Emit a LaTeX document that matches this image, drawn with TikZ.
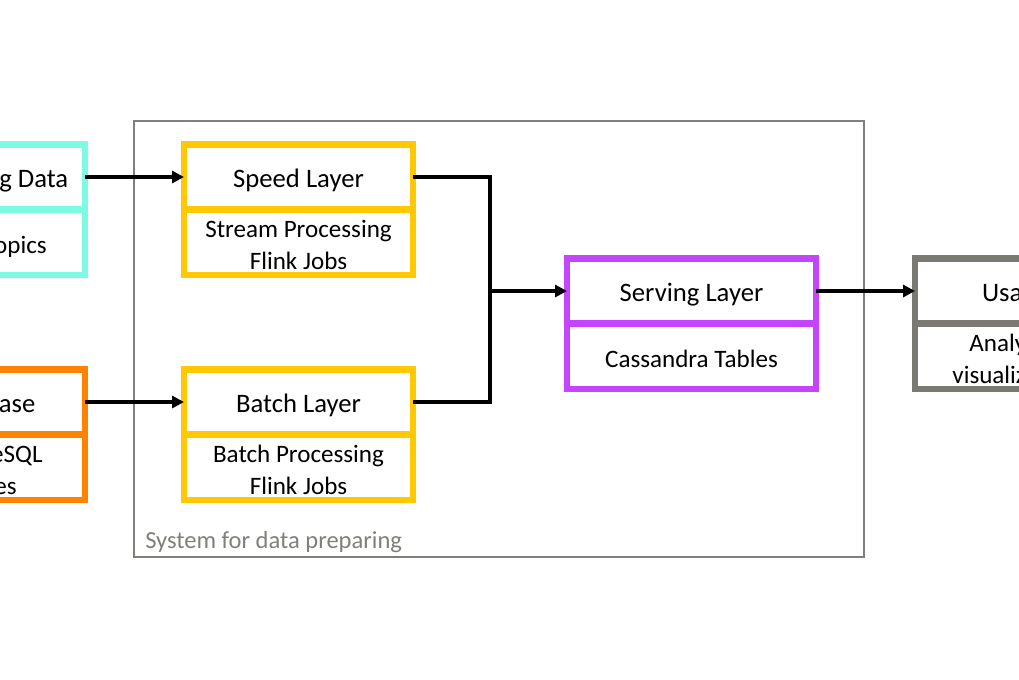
\documentclass[tikz,border=0pt]{standalone}
\usepackage{fontspec}
\setmainfont{Carlito}
\usepackage{xcolor}
\usepackage{tikz}
\usetikzlibrary{positioning,arrows.meta}

\definecolor{streamcol}{RGB}{127,250,226}
\definecolor{dbcol}{RGB}{255,131,0}
\definecolor{layercol}{RGB}{255,200,0}
\definecolor{servecol}{RGB}{197,68,255}
\definecolor{usagecol}{RGB}{122,122,114}
\definecolor{framecol}{RGB}{128,128,122}

\begin{document}
\begin{tikzpicture}[x=0.75pt,y=-0.75pt,
  every text node part/.style={align=center},
  font=\fontsize{18.8}{24}\selectfont,
  part/.style={draw, line width=5pt, outer sep=0pt, inner sep=0pt, minimum height=49pt,
    text height=16pt, text depth=0pt},
  head/.style={font=\fontsize{20}{24}\selectfont, text height=15pt},
  twoline/.style={text height=40pt},
  narrow/.style={part, minimum width=171.75pt},
  wide/.style={part, minimum width=186.75pt},
  side/.style={part, minimum width=150pt},
  link/.style={line width=3pt, -{Triangle[length=9pt,width=9pt]}}]
  \useasboundingbox (0,0) rectangle (1019,679);
  \clip (0,0) rectangle (1019,679);

  % system frame
  \draw[framecol, line width=1.5pt] (134,121) rectangle (864,557);
  \node[anchor=base west, inner sep=0pt, text=framecol, font=\fontsize{18.4}{22}\selectfont]
    (sysname) at (145,548) {System for data preparing};

  % sources
  \node[side, head, draw=streamcol]                         (stream)  at (-15,177) {Streaming Data};
  \node[side, draw=streamcol, below=0pt of stream]          (kafka)   {Kafka Topics};
  \node[side, head, draw=dbcol]                             (db)      at (-15,402) {Database};
  \node[side, twoline, draw=dbcol, below=0pt of db]         (pg)      {PostgreSQL\\Tables};

  % layers
  \node[narrow, head, draw=layercol]                        (speed)    at (298.5,177) {Speed Layer};
  \node[narrow, twoline, draw=layercol, below=0pt of speed] (speedjob) {Stream Processing\\Flink Jobs};
  \node[narrow, head, draw=layercol]                        (batch)    at (298.5,402) {Batch Layer};
  \node[narrow, twoline, draw=layercol, below=0pt of batch] (batchjob) {Batch Processing\\Flink Jobs};
  \node[wide, head, draw=servecol]                          (serving)  at (691.5,291) {Serving Layer};
  \node[wide, draw=servecol, below=0pt of serving]          (tables)   {Cassandra Tables};

  % usage
  \node[side, head, draw=usagecol]                          (usage)    at (1015,291) {Usage};
  \node[side, twoline, draw=usagecol, below=0pt of usage]   (analytic) {Analytics\\visualization};

  \coordinate (join) at (490,291);

  \draw[link] (stream) -- (speed);
  \draw[link] (db) -- (batch);
  \draw[line width=3pt] (speed.east) -| (join) |- (batch.east);
  \draw[link] (join) -- (serving);
  \draw[link] (serving) -- (usage);
\end{tikzpicture}
\end{document}
